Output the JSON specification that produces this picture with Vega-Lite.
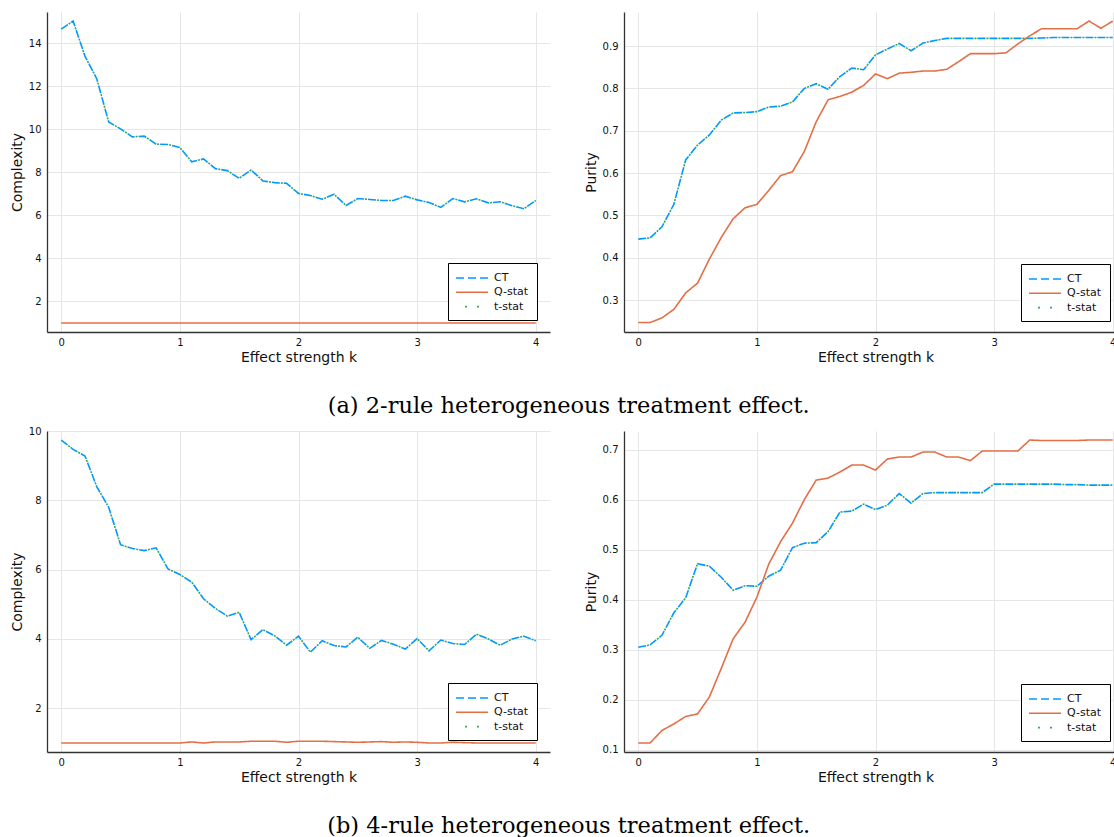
{
 "$schema": "https://vega.github.io/schema/vega-lite/v6.json",
 "padding": {"left": 10, "top": 12, "right": 0, "bottom": 0},
 "background": "white",
 "datasets": {
  "p1": [
   {"k":0.0,"CT":14.65,"Q-stat":1,"t-stat":14.65},{"k":0.1,"CT":15.03,"Q-stat":1,"t-stat":15.03},{"k":0.2,"CT":13.4,"Q-stat":1,"t-stat":13.4},{"k":0.3,"CT":12.34,"Q-stat":1,"t-stat":12.34},{"k":0.4,"CT":10.34,"Q-stat":1,"t-stat":10.34},{"k":0.5,"CT":10.02,"Q-stat":1,"t-stat":10.02},{"k":0.6,"CT":9.65,"Q-stat":1,"t-stat":9.65},{"k":0.7,"CT":9.68,"Q-stat":1,"t-stat":9.68},{"k":0.8,"CT":9.31,"Q-stat":1,"t-stat":9.31},{"k":0.9,"CT":9.29,"Q-stat":1,"t-stat":9.29},
   {"k":1.0,"CT":9.15,"Q-stat":1,"t-stat":9.15},{"k":1.1,"CT":8.49,"Q-stat":1,"t-stat":8.49},{"k":1.2,"CT":8.62,"Q-stat":1,"t-stat":8.62},{"k":1.3,"CT":8.17,"Q-stat":1,"t-stat":8.17},{"k":1.4,"CT":8.08,"Q-stat":1,"t-stat":8.08},{"k":1.5,"CT":7.72,"Q-stat":1,"t-stat":7.72},{"k":1.6,"CT":8.11,"Q-stat":1,"t-stat":8.11},{"k":1.7,"CT":7.6,"Q-stat":1,"t-stat":7.6},{"k":1.8,"CT":7.52,"Q-stat":1,"t-stat":7.52},{"k":1.9,"CT":7.49,"Q-stat":1,"t-stat":7.49},
   {"k":2.0,"CT":7.02,"Q-stat":1,"t-stat":7.02},{"k":2.1,"CT":6.92,"Q-stat":1,"t-stat":6.92},{"k":2.2,"CT":6.75,"Q-stat":1,"t-stat":6.75},{"k":2.3,"CT":6.98,"Q-stat":1,"t-stat":6.98},{"k":2.4,"CT":6.46,"Q-stat":1,"t-stat":6.46},{"k":2.5,"CT":6.78,"Q-stat":1,"t-stat":6.78},{"k":2.6,"CT":6.74,"Q-stat":1,"t-stat":6.74},{"k":2.7,"CT":6.69,"Q-stat":1,"t-stat":6.69},{"k":2.8,"CT":6.69,"Q-stat":1,"t-stat":6.69},{"k":2.9,"CT":6.89,"Q-stat":1,"t-stat":6.89},
   {"k":3.0,"CT":6.72,"Q-stat":1,"t-stat":6.72},{"k":3.1,"CT":6.6,"Q-stat":1,"t-stat":6.6},{"k":3.2,"CT":6.37,"Q-stat":1,"t-stat":6.37},{"k":3.3,"CT":6.78,"Q-stat":1,"t-stat":6.78},{"k":3.4,"CT":6.63,"Q-stat":1,"t-stat":6.63},{"k":3.5,"CT":6.77,"Q-stat":1,"t-stat":6.77},{"k":3.6,"CT":6.58,"Q-stat":1,"t-stat":6.58},{"k":3.7,"CT":6.63,"Q-stat":1,"t-stat":6.63},{"k":3.8,"CT":6.45,"Q-stat":1,"t-stat":6.45},{"k":3.9,"CT":6.31,"Q-stat":1,"t-stat":6.31},
   {"k":4.0,"CT":6.69,"Q-stat":1,"t-stat":6.69}
  ],
  "p2": [
   {"k":0.0,"CT":0.444,"Q-stat":0.247,"t-stat":0.444},{"k":0.1,"CT":0.447,"Q-stat":0.247,"t-stat":0.447},{"k":0.2,"CT":0.473,"Q-stat":0.258,"t-stat":0.473},{"k":0.3,"CT":0.526,"Q-stat":0.278,"t-stat":0.526},{"k":0.4,"CT":0.631,"Q-stat":0.317,"t-stat":0.631},{"k":0.5,"CT":0.666,"Q-stat":0.34,"t-stat":0.666},{"k":0.6,"CT":0.69,"Q-stat":0.397,"t-stat":0.69},{"k":0.7,"CT":0.725,"Q-stat":0.448,"t-stat":0.725},{"k":0.8,"CT":0.742,"Q-stat":0.492,"t-stat":0.742},{"k":0.9,"CT":0.743,"Q-stat":0.518,"t-stat":0.743},
   {"k":1.0,"CT":0.745,"Q-stat":0.526,"t-stat":0.745},{"k":1.1,"CT":0.756,"Q-stat":0.559,"t-stat":0.756},{"k":1.2,"CT":0.758,"Q-stat":0.594,"t-stat":0.758},{"k":1.3,"CT":0.768,"Q-stat":0.603,"t-stat":0.768},{"k":1.4,"CT":0.8,"Q-stat":0.651,"t-stat":0.8},{"k":1.5,"CT":0.811,"Q-stat":0.721,"t-stat":0.811},{"k":1.6,"CT":0.798,"Q-stat":0.773,"t-stat":0.798},{"k":1.7,"CT":0.828,"Q-stat":0.781,"t-stat":0.828},{"k":1.8,"CT":0.848,"Q-stat":0.791,"t-stat":0.848},{"k":1.9,"CT":0.844,"Q-stat":0.807,"t-stat":0.844},
   {"k":2.0,"CT":0.879,"Q-stat":0.834,"t-stat":0.879},{"k":2.1,"CT":0.893,"Q-stat":0.823,"t-stat":0.893},{"k":2.2,"CT":0.906,"Q-stat":0.836,"t-stat":0.906},{"k":2.3,"CT":0.889,"Q-stat":0.838,"t-stat":0.889},{"k":2.4,"CT":0.907,"Q-stat":0.841,"t-stat":0.907},{"k":2.5,"CT":0.913,"Q-stat":0.841,"t-stat":0.913},{"k":2.6,"CT":0.918,"Q-stat":0.845,"t-stat":0.918},{"k":2.7,"CT":0.918,"Q-stat":0.863,"t-stat":0.918},{"k":2.8,"CT":0.918,"Q-stat":0.882,"t-stat":0.918},{"k":2.9,"CT":0.918,"Q-stat":0.882,"t-stat":0.918},
   {"k":3.0,"CT":0.918,"Q-stat":0.882,"t-stat":0.918},{"k":3.1,"CT":0.918,"Q-stat":0.884,"t-stat":0.918},{"k":3.2,"CT":0.918,"Q-stat":0.905,"t-stat":0.918},{"k":3.3,"CT":0.918,"Q-stat":0.924,"t-stat":0.918},{"k":3.4,"CT":0.919,"Q-stat":0.941,"t-stat":0.919},{"k":3.5,"CT":0.92,"Q-stat":0.941,"t-stat":0.92},{"k":3.6,"CT":0.92,"Q-stat":0.941,"t-stat":0.92},{"k":3.7,"CT":0.92,"Q-stat":0.941,"t-stat":0.92},{"k":3.8,"CT":0.92,"Q-stat":0.959,"t-stat":0.92},{"k":3.9,"CT":0.92,"Q-stat":0.942,"t-stat":0.92},
   {"k":4.0,"CT":0.92,"Q-stat":0.959,"t-stat":0.92}
  ],
  "p3": [
   {"k":0.0,"CT":9.74,"Q-stat":1,"t-stat":9.74},{"k":0.1,"CT":9.47,"Q-stat":1,"t-stat":9.47},{"k":0.2,"CT":9.28,"Q-stat":1,"t-stat":9.28},{"k":0.3,"CT":8.39,"Q-stat":1,"t-stat":8.39},{"k":0.4,"CT":7.8,"Q-stat":1,"t-stat":7.8},{"k":0.5,"CT":6.72,"Q-stat":1,"t-stat":6.72},{"k":0.6,"CT":6.61,"Q-stat":1,"t-stat":6.61},{"k":0.7,"CT":6.55,"Q-stat":1,"t-stat":6.55},{"k":0.8,"CT":6.63,"Q-stat":1,"t-stat":6.63},{"k":0.9,"CT":6.02,"Q-stat":1,"t-stat":6.02},
   {"k":1.0,"CT":5.86,"Q-stat":1,"t-stat":5.86},{"k":1.1,"CT":5.64,"Q-stat":1.03,"t-stat":5.64},{"k":1.2,"CT":5.16,"Q-stat":1.0,"t-stat":5.16},{"k":1.3,"CT":4.88,"Q-stat":1.03,"t-stat":4.88},{"k":1.4,"CT":4.66,"Q-stat":1.03,"t-stat":4.66},{"k":1.5,"CT":4.77,"Q-stat":1.03,"t-stat":4.77},{"k":1.6,"CT":3.98,"Q-stat":1.05,"t-stat":3.98},{"k":1.7,"CT":4.27,"Q-stat":1.05,"t-stat":4.27},{"k":1.8,"CT":4.09,"Q-stat":1.05,"t-stat":4.09},{"k":1.9,"CT":3.82,"Q-stat":1.02,"t-stat":3.82},
   {"k":2.0,"CT":4.08,"Q-stat":1.05,"t-stat":4.08},{"k":2.1,"CT":3.62,"Q-stat":1.05,"t-stat":3.62},{"k":2.2,"CT":3.95,"Q-stat":1.05,"t-stat":3.95},{"k":2.3,"CT":3.81,"Q-stat":1.04,"t-stat":3.81},{"k":2.4,"CT":3.77,"Q-stat":1.03,"t-stat":3.77},{"k":2.5,"CT":4.05,"Q-stat":1.02,"t-stat":4.05},{"k":2.6,"CT":3.73,"Q-stat":1.03,"t-stat":3.73},{"k":2.7,"CT":3.96,"Q-stat":1.04,"t-stat":3.96},{"k":2.8,"CT":3.85,"Q-stat":1.02,"t-stat":3.85},{"k":2.9,"CT":3.71,"Q-stat":1.03,"t-stat":3.71},
   {"k":3.0,"CT":4.01,"Q-stat":1.02,"t-stat":4.01},{"k":3.1,"CT":3.66,"Q-stat":1.0,"t-stat":3.66},{"k":3.2,"CT":3.97,"Q-stat":1.0,"t-stat":3.97},{"k":3.3,"CT":3.87,"Q-stat":1.02,"t-stat":3.87},{"k":3.4,"CT":3.84,"Q-stat":1.01,"t-stat":3.84},{"k":3.5,"CT":4.14,"Q-stat":1.0,"t-stat":4.14},{"k":3.6,"CT":4.0,"Q-stat":1.0,"t-stat":4.0},{"k":3.7,"CT":3.82,"Q-stat":1.0,"t-stat":3.82},{"k":3.8,"CT":4.0,"Q-stat":1.0,"t-stat":4.0},{"k":3.9,"CT":4.08,"Q-stat":1.0,"t-stat":4.08},
   {"k":4.0,"CT":3.95,"Q-stat":1.0,"t-stat":3.95}
  ],
  "p4": [
   {"k":0.0,"CT":0.305,"Q-stat":0.114,"t-stat":0.305},{"k":0.1,"CT":0.31,"Q-stat":0.114,"t-stat":0.31},{"k":0.2,"CT":0.329,"Q-stat":0.139,"t-stat":0.329},{"k":0.3,"CT":0.374,"Q-stat":0.152,"t-stat":0.374},{"k":0.4,"CT":0.404,"Q-stat":0.167,"t-stat":0.404},{"k":0.5,"CT":0.472,"Q-stat":0.172,"t-stat":0.472},{"k":0.6,"CT":0.467,"Q-stat":0.206,"t-stat":0.467},{"k":0.7,"CT":0.445,"Q-stat":0.263,"t-stat":0.445},{"k":0.8,"CT":0.419,"Q-stat":0.322,"t-stat":0.419},{"k":0.9,"CT":0.428,"Q-stat":0.355,"t-stat":0.428},
   {"k":1.0,"CT":0.427,"Q-stat":0.405,"t-stat":0.427},{"k":1.1,"CT":0.447,"Q-stat":0.471,"t-stat":0.447},{"k":1.2,"CT":0.459,"Q-stat":0.516,"t-stat":0.459},{"k":1.3,"CT":0.504,"Q-stat":0.553,"t-stat":0.504},{"k":1.4,"CT":0.513,"Q-stat":0.6,"t-stat":0.513},{"k":1.5,"CT":0.514,"Q-stat":0.639,"t-stat":0.514},{"k":1.6,"CT":0.536,"Q-stat":0.643,"t-stat":0.536},{"k":1.7,"CT":0.575,"Q-stat":0.655,"t-stat":0.575},{"k":1.8,"CT":0.577,"Q-stat":0.669,"t-stat":0.577},{"k":1.9,"CT":0.591,"Q-stat":0.669,"t-stat":0.591},
   {"k":2.0,"CT":0.58,"Q-stat":0.659,"t-stat":0.58},{"k":2.1,"CT":0.589,"Q-stat":0.681,"t-stat":0.589},{"k":2.2,"CT":0.612,"Q-stat":0.685,"t-stat":0.612},{"k":2.3,"CT":0.593,"Q-stat":0.685,"t-stat":0.593},{"k":2.4,"CT":0.612,"Q-stat":0.695,"t-stat":0.612},{"k":2.5,"CT":0.614,"Q-stat":0.695,"t-stat":0.614},{"k":2.6,"CT":0.614,"Q-stat":0.685,"t-stat":0.614},{"k":2.7,"CT":0.614,"Q-stat":0.685,"t-stat":0.614},{"k":2.8,"CT":0.614,"Q-stat":0.678,"t-stat":0.614},{"k":2.9,"CT":0.614,"Q-stat":0.697,"t-stat":0.614},
   {"k":3.0,"CT":0.631,"Q-stat":0.697,"t-stat":0.631},{"k":3.1,"CT":0.631,"Q-stat":0.697,"t-stat":0.631},{"k":3.2,"CT":0.631,"Q-stat":0.697,"t-stat":0.631},{"k":3.3,"CT":0.631,"Q-stat":0.719,"t-stat":0.631},{"k":3.4,"CT":0.631,"Q-stat":0.718,"t-stat":0.631},{"k":3.5,"CT":0.631,"Q-stat":0.718,"t-stat":0.631},{"k":3.6,"CT":0.63,"Q-stat":0.718,"t-stat":0.63},{"k":3.7,"CT":0.63,"Q-stat":0.718,"t-stat":0.63},{"k":3.8,"CT":0.629,"Q-stat":0.719,"t-stat":0.629},{"k":3.9,"CT":0.629,"Q-stat":0.719,"t-stat":0.629},
   {"k":4.0,"CT":0.629,"Q-stat":0.719,"t-stat":0.629}
  ]
 },
 "config": {
  "view": {"stroke": null},
  "font": "DejaVu Sans",
  "axis": {
   "labelFont": "DejaVu Sans", "labelFontSize": 10, "labelColor": "#111",
   "titleFont": "DejaVu Sans", "titleFontSize": 14, "titleFontWeight": "normal", "titleColor": "#111",
   "gridColor": "#e6e6e6", "gridWidth": 1,
   "domainColor": "#333", "domainWidth": 1.3,
   "ticks": false
  },
  "axisX": {"labelPadding": 5, "titlePadding": 3},
  "axisY": {"labelPadding": 6, "titlePadding": 4},
  "legend": {
   "symbolType": "M-2.67,0H2.67", "symbolSize": 144, "symbolStrokeWidth": 1.6,
   "symbolOffset": 9, "labelOffset": 15,
   "labelFont": "DejaVu Sans", "labelFontSize": 11, "labelColor": "#111",
   "strokeColor": "#000", "fillColor": "#fff", "padding": 8, "rowPadding": 2.3
  },
  "title": {"orient": "bottom", "anchor": "middle", "font": "DejaVu Serif", "fontSize": 22.5, "fontWeight": "normal", "color": "#000", "offset": 31}
 },
 "spacing": 8,
 "resolve": {"scale": {"color": "independent", "strokeDash": "independent"}, "legend": {"color": "independent", "strokeDash": "independent"}},
 "vconcat": [
  {
   "title": {"text": "(a) 2-rule heterogeneous treatment effect."},
   "spacing": 34,
   "resolve": {"scale": {"color": "independent", "strokeDash": "independent"}, "legend": {"color": "independent", "strokeDash": "independent"}},
   "hconcat": [
    {
     "data": {"name": "p1"},
     "transform": [{"fold": ["CT", "Q-stat", "t-stat"], "as": ["method", "value"]}],
     "width": 503, "height": 320,
     "mark": {"type": "line", "strokeWidth": 1.6, "clip": true},
     "encoding": {
      "x": {"field": "k", "type": "quantitative", "scale": {"domain": [-0.12, 4.12], "nice": false, "zero": false}, "axis": {"values": [0, 1, 2, 3, 4], "title": "Effect strength k"}},
      "y": {"field": "value", "type": "quantitative", "scale": {"domain": [0.58, 15.45], "nice": false, "zero": false}, "axis": {"values": [2, 4, 6, 8, 10, 12, 14], "title": "Complexity"}},
      "color": {"field": "method", "type": "nominal", "scale": {"domain": ["CT", "Q-stat", "t-stat"], "range": ["#009AFA", "#E36F47", "#3EA44E"]}, "legend": {"title": null, "orient": "none", "legendX": 401, "legendY": 251}},
      "strokeDash": {"field": "method", "type": "nominal", "scale": {"domain": ["CT", "Q-stat", "t-stat"], "range": [[8, 4], [1, 0], [0, 9, 2, 1]]}, "legend": {"title": null, "orient": "none", "legendX": 401, "legendY": 251}}
     }
    },
    {
     "data": {"name": "p2"},
     "transform": [{"fold": ["CT", "Q-stat", "t-stat"], "as": ["method", "value"]}],
     "width": 503, "height": 320,
     "mark": {"type": "line", "strokeWidth": 1.6, "clip": true},
     "encoding": {
      "x": {"field": "k", "type": "quantitative", "scale": {"domain": [-0.12, 4.12], "nice": false, "zero": false}, "axis": {"values": [0, 1, 2, 3, 4], "title": "Effect strength k"}},
      "y": {"field": "value", "type": "quantitative", "scale": {"domain": [0.2246, 0.9804], "nice": false, "zero": false}, "axis": {"values": [0.3, 0.4, 0.5, 0.6, 0.7, 0.8, 0.9], "title": "Purity"}},
      "color": {"field": "method", "type": "nominal", "scale": {"domain": ["CT", "Q-stat", "t-stat"], "range": ["#009AFA", "#E36F47", "#3EA44E"]}, "legend": {"title": null, "orient": "none", "legendX": 397, "legendY": 252}},
      "strokeDash": {"field": "method", "type": "nominal", "scale": {"domain": ["CT", "Q-stat", "t-stat"], "range": [[8, 4], [1, 0], [0, 9, 2, 1]]}, "legend": {"title": null, "orient": "none", "legendX": 397, "legendY": 252}}
     }
    }
   ]
  },
  {
   "title": {"text": "(b) 4-rule heterogeneous treatment effect."},
   "spacing": 34,
   "resolve": {"scale": {"color": "independent", "strokeDash": "independent"}, "legend": {"color": "independent", "strokeDash": "independent"}},
   "hconcat": [
    {
     "data": {"name": "p3"},
     "transform": [{"fold": ["CT", "Q-stat", "t-stat"], "as": ["method", "value"]}],
     "width": 503, "height": 321,
     "mark": {"type": "line", "strokeWidth": 1.6, "clip": true},
     "encoding": {
      "x": {"field": "k", "type": "quantitative", "scale": {"domain": [-0.12, 4.12], "nice": false, "zero": false}, "axis": {"values": [0, 1, 2, 3, 4], "title": "Effect strength k"}},
      "y": {"field": "value", "type": "quantitative", "scale": {"domain": [0.74, 10.0], "nice": false, "zero": false}, "axis": {"values": [2, 4, 6, 8, 10], "title": "Complexity"}},
      "color": {"field": "method", "type": "nominal", "scale": {"domain": ["CT", "Q-stat", "t-stat"], "range": ["#009AFA", "#E36F47", "#3EA44E"]}, "legend": {"title": null, "orient": "none", "legendX": 401, "legendY": 252}},
      "strokeDash": {"field": "method", "type": "nominal", "scale": {"domain": ["CT", "Q-stat", "t-stat"], "range": [[8, 4], [1, 0], [0, 9, 2, 1]]}, "legend": {"title": null, "orient": "none", "legendX": 401, "legendY": 252}}
     }
    },
    {
     "data": {"name": "p4"},
     "transform": [{"fold": ["CT", "Q-stat", "t-stat"], "as": ["method", "value"]}],
     "width": 503, "height": 321,
     "mark": {"type": "line", "strokeWidth": 1.6, "clip": true},
     "encoding": {
      "x": {"field": "k", "type": "quantitative", "scale": {"domain": [-0.12, 4.12], "nice": false, "zero": false}, "axis": {"values": [0, 1, 2, 3, 4], "title": "Effect strength k"}},
      "y": {"field": "value", "type": "quantitative", "scale": {"domain": [0.096, 0.737], "nice": false, "zero": false}, "axis": {"values": [0.1, 0.2, 0.3, 0.4, 0.5, 0.6, 0.7], "title": "Purity"}},
      "color": {"field": "method", "type": "nominal", "scale": {"domain": ["CT", "Q-stat", "t-stat"], "range": ["#009AFA", "#E36F47", "#3EA44E"]}, "legend": {"title": null, "orient": "none", "legendX": 397, "legendY": 253}},
      "strokeDash": {"field": "method", "type": "nominal", "scale": {"domain": ["CT", "Q-stat", "t-stat"], "range": [[8, 4], [1, 0], [0, 9, 2, 1]]}, "legend": {"title": null, "orient": "none", "legendX": 397, "legendY": 253}}
     }
    }
   ]
  }
 ]
}
